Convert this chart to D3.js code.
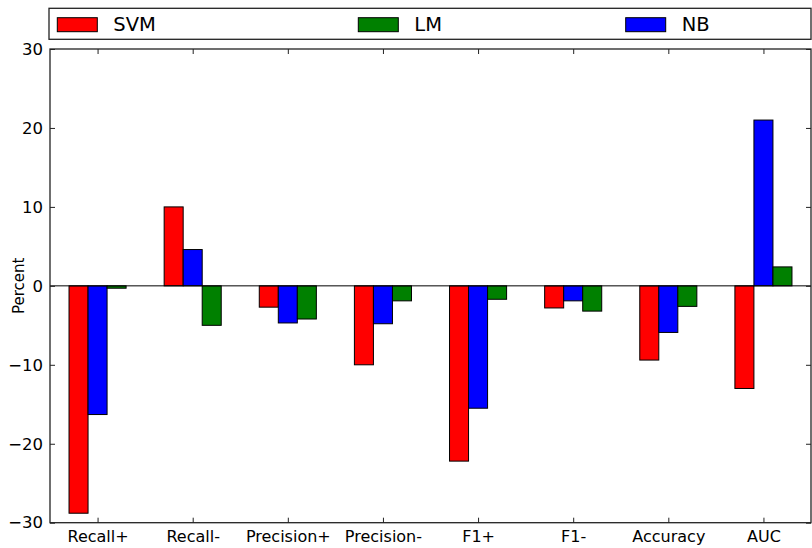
<!DOCTYPE html>
<html>
<head>
<meta charset="utf-8">
<script src="https://cdn.jsdelivr.net/npm/d3@7"></script>
<style>
  html, body { margin: 0; padding: 0; background: #fff; }
  svg { display: block; font-family: "DejaVu Sans", sans-serif; }
</style>
</head>
<body>
<svg id="chart" width="812" height="548"></svg>
<script>
// ---- data ----
const categories = ["Recall+", "Recall-", "Precision+", "Precision-", "F1+", "F1-", "Accuracy", "AUC"];
const seriesNames = ["SVM", "LM", "NB"];
const svmValues = [-28.8, 10.0, -2.7, -10.0, -22.2, -2.8, -9.4, -13.0];
const lmValues  = [-0.3, -5.0, -4.2, -1.9, -1.7, -3.2, -2.6, 2.4];
const nbValues  = [-16.3, 4.6, -4.7, -4.8, -15.5, -1.9, -5.9, 21.0];
const yTicks = [-30, -20, -10, 0, 10, 20, 30];
const yLabel = "Percent";

// ---- layout / style ----
const W = 812, H = 548;
const plot = { left: 50, right: 811, top: 49, bottom: 522.7 };
const colors = { SVM: "#ff0000", LM: "#008000", NB: "#0000ff" };
const barWidth = 0.2;                 // in category units
const barOrder = ["SVM", "NB", "LM"]; // drawing order within a group
const offsets = { SVM: -1.5, NB: -0.5, LM: 0.5 };
const valuesBy = { SVM: svmValues, LM: lmValues, NB: nbValues };

const svg = d3.select("#chart");

const x = d3.scaleLinear().domain([-0.5, categories.length - 0.5]).range([plot.left, plot.right]);
const y = d3.scaleLinear().domain([-30, 30]).range([plot.bottom, plot.top]);

// bars
const g = svg.append("g");
barOrder.forEach(name => {
  g.selectAll(null)
    .data(valuesBy[name].map((v, i) => ({ v, i })))
    .enter().append("rect")
    .attr("x", d => x(d.i + offsets[name] * barWidth))
    .attr("width", x(barWidth) - x(0))
    .attr("y", d => y(Math.max(0, d.v)))
    .attr("height", d => Math.abs(y(d.v) - y(0)))
    .attr("fill", colors[name])
    .attr("stroke", "#000")
    .attr("stroke-width", 1);
});

// zero line
svg.append("line")
  .attr("x1", plot.left).attr("x2", plot.right)
  .attr("y1", y(0)).attr("y2", y(0))
  .attr("stroke", "#000").attr("stroke-width", 1);

// axes (inward ticks, mirrored)
const tickColor = "#222";
const xAxisB = d3.axisBottom(x).tickValues(d3.range(categories.length)).tickFormat(i => categories[i]).tickSize(-5).tickPadding(8);
const xAxisT = d3.axisTop(x).tickValues(d3.range(categories.length)).tickFormat("").tickSize(-5);
const yAxisL = d3.axisLeft(y).tickValues(yTicks).tickFormat(d => d < 0 ? "\u2212" + Math.abs(d) : d).tickSize(-5).tickPadding(7);
const yAxisR = d3.axisRight(y).tickValues(yTicks).tickFormat("").tickSize(-5);

function style(sel, fontSize) {
  sel.select(".domain").remove();
  sel.selectAll(".tick line").attr("stroke", tickColor).attr("stroke-width", 1);
  sel.selectAll(".tick text").attr("fill", "#000").attr("font-size", fontSize)
     .attr("font-family", "DejaVu Sans, sans-serif");
}
svg.append("g").attr("transform", `translate(0,${plot.bottom})`).call(xAxisB).call(s => style(s, 16));
svg.append("g").attr("transform", `translate(0,${plot.top})`).call(xAxisT).call(s => style(s, 16));
svg.append("g").attr("transform", `translate(${plot.left},0)`).call(yAxisL).call(s => style(s, 16.5));
svg.append("g").attr("transform", `translate(${plot.right},0)`).call(yAxisR).call(s => style(s, 16.5));

// frame
svg.append("rect")
  .attr("x", plot.left).attr("y", plot.top)
  .attr("width", plot.right - plot.left).attr("height", plot.bottom - plot.top)
  .attr("fill", "none").attr("stroke", "#222").attr("stroke-width", 1.3);

// y label
svg.append("text")
  .attr("transform", `translate(24,${(plot.top + plot.bottom) / 2}) rotate(-90)`)
  .attr("text-anchor", "middle")
  .attr("font-size", 15)
  .text(yLabel);

// legend
const legend = { left: 49, right: 811, top: 8.3, bottom: 39.3 };
const legendX = [57.3, 358.3, 625.7];
svg.append("rect")
  .attr("x", legend.left).attr("y", legend.top)
  .attr("width", legend.right - legend.left).attr("height", legend.bottom - legend.top)
  .attr("fill", "#fff").attr("stroke", "#222").attr("stroke-width", 1.3);
const items = svg.selectAll(".leg").data(seriesNames).enter().append("g")
  .attr("transform", (d, i) => `translate(${legendX[i]},0)`);
items.append("rect")
  .attr("x", 0).attr("y", 17.7).attr("width", 40).attr("height", 14)
  .attr("fill", d => colors[d]).attr("stroke", "#000").attr("stroke-width", 1);
items.append("text")
  .attr("x", 56).attr("y", 31.2)
  .attr("font-size", 19.5)
  .text(d => d);
</script>
</body>
</html>
